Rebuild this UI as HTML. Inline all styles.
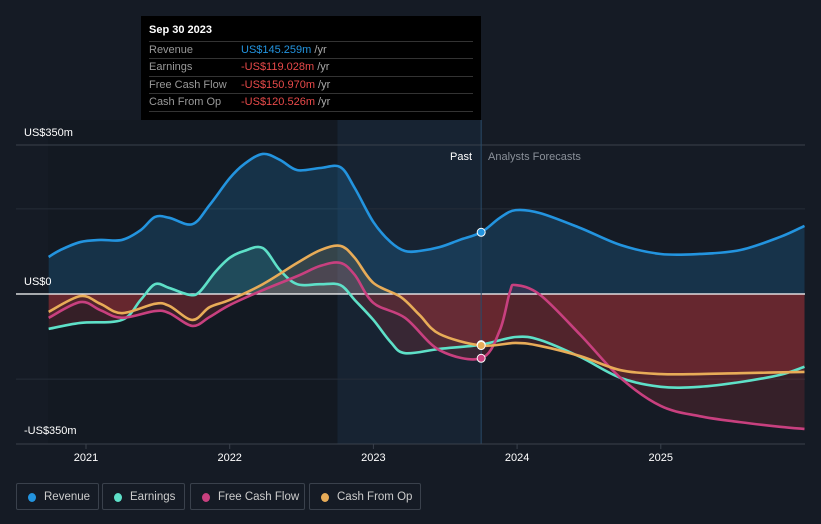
<!DOCTYPE html>
<html><head><meta charset="utf-8">
<style>
body{margin:0;width:821px;height:524px;background:#151b25;font-family:"Liberation Sans",sans-serif;overflow:hidden;position:relative}
svg{position:absolute;left:0;top:0}
.tt{position:absolute;left:141px;top:16px;width:340px;height:104px;background:#000}
.tt .d{position:absolute;left:8px;top:8px;color:#fff;font-size:11px;font-weight:bold}
.row{position:absolute;left:8px;width:324px;height:17px;border-top:1px solid #333;font-size:11px;line-height:17px;color:#999}
.row .v{position:absolute;left:92px}
.leg{position:absolute;top:483px;height:27px;border:1px solid #3a414c;border-radius:2px;color:#ccc;font-size:11.5px;line-height:27px;box-sizing:border-box;padding-left:27px}
.leg i{position:absolute;left:11px;top:9px;width:8px;height:9px;border-radius:50%}
</style></head><body>
<svg width="821" height="524" id="chart"></svg>
<div class="tt">
<div class="d">Sep 30 2023</div>
<div class="row" style="top:25px">Revenue<span class="v" style="color:#2394df">US$145.259m <span style="color:#aaa">/yr</span></span></div>
<div class="row" style="top:42px">Earnings<span class="v" style="color:#e84a4a">-US$119.028m <span style="color:#aaa">/yr</span></span></div>
<div class="row" style="top:60px">Free Cash Flow<span class="v" style="color:#e84a4a">-US$150.970m <span style="color:#aaa">/yr</span></span></div>
<div class="row" style="top:77px;border-bottom:1px solid #333">Cash From Op<span class="v" style="color:#e84a4a">-US$120.526m <span style="color:#aaa">/yr</span></span></div>
</div>
<div class="leg" style="left:16px;width:83px"><i style="background:#2394df"></i>Revenue</div>
<div class="leg" style="left:102px;width:83px"><i style="background:#5ee0c8"></i>Earnings</div>
<div class="leg" style="left:190px;width:115px"><i style="background:#c8407f"></i>Free Cash Flow</div>
<div class="leg" style="left:309px;width:112px"><i style="background:#e8ac58"></i>Cash From Op</div>
<script>
const yTicks=[350,0,-350];
const yTickLabels=["US$350m","US$0","-US$350m"];
const gridVals=[350,200,-200];
const xTicks=[2021,2022,2023,2024,2025];
const revT=[2020.74,2020.82,2020.96,2021.10,2021.25,2021.38,2021.48,2021.58,2021.74,2021.86,2022.0,2022.10,2022.23,2022.35,2022.47,2022.63,2022.77,2022.87,2023.0,2023.12,2023.22,2023.32,2023.46,2023.60,2023.75,2023.88,2023.99,2024.16,2024.44,2024.72,2025.0,2025.27,2025.55,2025.83,2026.0];
const revV=[87,103,122,127,127,150,181,179,164,209,272,305,329,315,291,296,298,249,169,122,101,101,110,127,145,179,197,190,155,115,94,94,103,134,160];
const earnT=[2020.74,2020.96,2021.25,2021.38,2021.48,2021.58,2021.72,2021.79,2021.90,2022.0,2022.10,2022.23,2022.35,2022.47,2022.63,2022.77,2022.87,2023.0,2023.12,2023.22,2023.46,2023.75,2023.99,2024.16,2024.44,2024.72,2025.0,2025.27,2025.55,2025.83,2026.0];
const earnV=[-82,-68,-61,-14,23,14,-2,5,52,85,101,108,56,23,23,21,-14,-61,-113,-139,-129,-119,-101,-108,-148,-197,-218,-218,-207,-190,-171];
const fcfT=[2020.74,2020.96,2021.10,2021.25,2021.48,2021.58,2021.74,2021.86,2022.0,2022.23,2022.47,2022.63,2022.77,2022.87,2023.0,2023.22,2023.46,2023.75,2023.88,2023.95,2023.99,2024.16,2024.44,2024.72,2025.0,2025.27,2025.55,2025.83,2026.0];
const fcfV=[-56,-19,-38,-56,-40,-45,-75,-54,-26,9,42,66,73,45,-21,-56,-132,-151,-85,5,21,-2,-96,-197,-263,-287,-301,-312,-317];
const cfoT=[2020.74,2020.96,2021.10,2021.25,2021.48,2021.58,2021.74,2021.86,2022.0,2022.23,2022.47,2022.63,2022.77,2022.87,2023.0,2023.19,2023.32,2023.46,2023.75,2023.99,2024.16,2024.44,2024.72,2025.0,2025.27,2025.55,2026.0];
const cfoV=[-42,-5,-23,-45,-23,-28,-61,-31,-14,23,73,103,113,85,26,-7,-49,-94,-121,-115,-122,-146,-179,-188,-188,-186,-183];

const NS="http://www.w3.org/2000/svg";
const svg=document.getElementById('chart');
const X=t=>86+(t-2021)*143.7;
const Y=v=>294-v*0.4257;
function el(tag,attrs,parent){const e=document.createElementNS(NS,tag);for(const k in attrs)e.setAttribute(k,attrs[k]);(parent||svg).appendChild(e);return e;}
function pathD(T,V){const p=T.map((t,i)=>[X(t),Y(V[i])]);let d=`M${p[0][0]},${p[0][1]}`;for(let i=0;i<p.length-1;i++){const p0=p[i-1]||p[i],p1=p[i],p2=p[i+1],p3=p[i+2]||p2;const c1=[p1[0]+(p2[0]-p0[0])/6,p1[1]+(p2[1]-p0[1])/6],c2=[p2[0]-(p3[0]-p1[0])/6,p2[1]-(p3[1]-p1[1])/6];d+=`C${c1[0]},${c1[1]} ${c2[0]},${c2[1]} ${p2[0]},${p2[1]}`;}return d;}
const defs=el('defs',{});
const cpA=el('clipPath',{id:'above'},defs);el('rect',{x:0,y:0,width:821,height:Y(0)},cpA);
const cpB=el('clipPath',{id:'below'},defs);el('rect',{x:0,y:Y(0),width:821,height:300},cpB);
const past=el('rect',{x:X(2022.75),y:120,width:X(2023.75)-X(2022.75),height:444-120,fill:'#1b2f45',opacity:0.4});

el('rect',{x:48,y:120,width:X(2022.75)-48,height:324,fill:'#121820',opacity:0.5});
gridVals.forEach(v=>{const g=el('line',{x1:16,x2:805,y1:Y(v),y2:Y(v),stroke:v===350?'#3a414c':'#262d38','stroke-width':1});});
const series=[[revT,revV,'#2394df','revenue'],[earnT,earnV,'#5ee0c8','earnings'],[fcfT,fcfV,'#c8407f','free-cash-flow'],[cfoT,cfoV,'#e8ac58','cash-from-op']];
series.forEach(([T,V,c,n])=>{const d=pathD(T,V)+`L${X(T[T.length-1])},${Y(0)}L${X(T[0])},${Y(0)}Z`;
 const a=el('path',{d,fill:c,opacity:n==='revenue'?0.2:0.15,'clip-path':'url(#above)'});
 const b=el('path',{d,fill:'#c0393b',opacity:0.2,'clip-path':'url(#below)'});});
const zl=el('line',{x1:16,x2:805,y1:Y(0),y2:Y(0),stroke:'#fff','stroke-width':1.2});
const dv=el('line',{x1:X(2023.75),x2:X(2023.75),y1:120,y2:444,stroke:'#2a4a68','stroke-width':1});
series.forEach(([T,V,c,n])=>{const l=el('path',{d:pathD(T,V),fill:'none',stroke:c,'stroke-width':2.6});});
series.forEach(([T,V,c,n])=>{const i=T.indexOf(2023.75);if(i<0)return;const m=el('circle',{cx:X(T[i]),cy:Y(V[i]),r:4,fill:c,stroke:'#fff','stroke-width':1});});
const ax=el('line',{x1:16,x2:805,y1:444,y2:444,stroke:'#3a414c','stroke-width':1});
xTicks.forEach(t=>{el('line',{x1:X(t),x2:X(t),y1:444,y2:449,stroke:'#3a414c'});const tx=el('text',{x:X(t),y:461,fill:'#fff','font-size':11,'text-anchor':'middle'});tx.textContent=t;});
yTicks.forEach((v,i)=>{const tx=el('text',{x:24,y:Y(v)-9,fill:'#fff','font-size':11});tx.textContent=yTickLabels[i];});
const p1=el('text',{x:472,y:160,fill:'#fff','font-size':11,'text-anchor':'end'});p1.textContent='Past';
const p2=el('text',{x:488,y:160,fill:'#8a9099','font-size':11});p2.textContent='Analysts Forecasts';
</script>
</body></html>
